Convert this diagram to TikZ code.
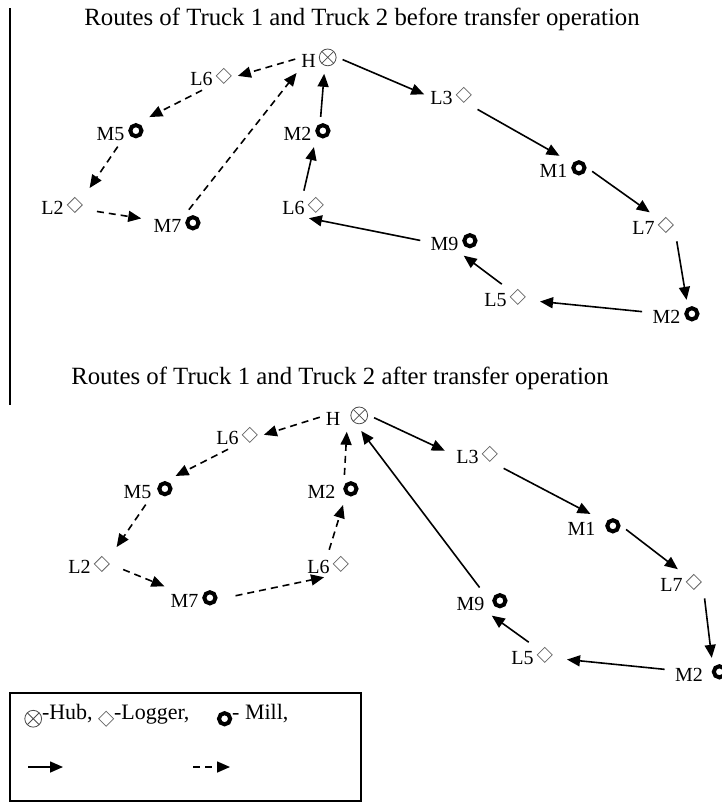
\documentclass[tikz,border=0pt]{standalone}
\usepackage{fontspec}
\setmainfont{Liberation Serif}
\usetikzlibrary{arrows.meta}
\newcommand{\hubsym}[1][-5pt]{\tikz[baseline=#1]{\draw[black!70] (0,0) circle (4.2pt); \draw[black!70] (45:4.2pt) -- (225:4.2pt) (135:4.2pt) -- (315:4.2pt);}}
\newcommand{\logsym}[1][-5pt]{\tikz[baseline=#1]\draw[black!60] (0,3.75pt) -- (3.75pt,0) -- (0,-3.75pt) -- (-3.75pt,0) -- cycle;}
\newcommand{\millsym}[1][-5pt]{\tikz[baseline=#1]\draw[line width=2pt] (0,0) circle (2.8pt);}
\begin{document}
\begin{tikzpicture}[x=0.5pt,y=-0.5pt]
    \tikzset{stop/.style = {inner sep=1pt,font=\fontsize{10}{12}\selectfont}, title/.style = {font=\fontsize{12.4}{14}\selectfont}, truck1/.style = {line width=.8pt,-{Triangle[length=6.5pt,width=5.5pt]}}, truck2/.style = {truck1,dash pattern=on 3.5pt off 2.5pt}}
    \useasboundingbox (0,0) rectangle (722,803);
    \draw[line width=.6pt] (10,8) -- (10,405);
    \node[title] (T1) at (362,19) {Routes of Truck 1 and Truck 2 before transfer operation};
    \node[title] (T2) at (340,378) {Routes of Truck 1 and Truck 2 after transfer operation};
    \node[stop] (H1) at (319,58) {H\hspace{1.5pt}\hubsym};
    \node[stop] (L6a) at (211,77) {L6\,\logsym};
    \node[stop] (M5a) at (120,132) {M5\hspace{2pt}\millsym};
    \node[stop] (L2a) at (62,206) {L2\,\logsym};
    \node[stop] (M7a) at (177,224) {M7\hspace{2pt}\millsym};
    \node[stop] (M2a) at (307,132) {M2\hspace{2pt}\millsym};
    \node[stop] (L6b) at (303,206) {L6\,\logsym};
    \node[stop] (L3a) at (451,96) {L3\,\logsym};
    \node[stop] (M1a) at (563,169) {M1\hspace{2pt}\millsym};
    \node[stop] (L7a) at (653,226) {L7\,\logsym};
    \node[stop] (M9a) at (454,242) {M9\hspace{2pt}\millsym};
    \node[stop] (L5a) at (505,298) {L5\,\logsym};
    \node[stop] (M2b) at (676,315) {M2\hspace{2pt}\millsym};
    \node[stop] (H2) at (347,416) {H\hspace{5pt}\hubsym};
    \node[stop] (L6c) at (237,436) {L6\,\logsym};
    \node[stop] (M5c) at (148,490) {M5\hspace{3pt}\millsym};
    \node[stop] (L2c) at (89,565) {L2\,\logsym};
    \node[stop] (M7c) at (194,599) {M7\hspace{2pt}\millsym};
    \node[stop] (L6d) at (328,565) {L6\,\logsym};
    \node[stop] (M2c) at (333,490) {M2\hspace{4pt}\millsym};
    \node[stop] (L3c) at (477,455) {L3\,\logsym};
    \node[stop] (M1c) at (594,527) {M1\hspace{5pt}\millsym};
    \node[stop] (L7c) at (681,583) {L7\,\logsym};
    \node[stop] (M9c) at (482,602) {M9\hspace{4pt}\millsym};
    \node[stop] (L5c) at (532,656) {L5\,\logsym};
    \node[stop] (M2d) at (701,673) {M2\hspace{4.5pt}\millsym};
    \begin{scope}[shorten >=2pt,shorten <=2pt]
        \draw[truck1] (H1.east) -- (L3a.west);
        \draw[truck1] (L3a.south east) -- (M1a.north);
        \draw[truck1] (M1a.east) -- (L7a.north);
        \draw[truck1] (L7a.south east) -- (M2b.45);
        \draw[truck1,shorten >=6pt,shorten <=4pt] (M2b) -- (L5a);
        \draw[truck1] (L5a.north) -- (M9a.-60);
        \draw[truck1,shorten <=4pt] (M9a.west) -- (L6b.-80);
        \draw[truck1] (L6b.north) -- (M2a.-55);
        \draw[truck1] (M2a.40) -- (H1.-65);
        \draw[truck2] (H1.west) -- (L6a.east);
        \draw[truck2,shorten >=4pt] (L6a.-115) -- (M5a);
        \draw[truck2,shorten >=4pt] (M5a.south) -- (L2a.north east);
        \draw[truck2,shorten >=5pt,shorten <=6pt] (L2a) -- (M7a);
        \draw[truck2] (M7a.50) -- (H1.south west);
        \draw[truck1,shorten >=5pt] (H2.east) -- (L3c.west);
        \draw[truck1] (L3c.south east) -- (M1c.north);
        \draw[truck1] (M1c.east) -- (L7c.north);
        \draw[truck1] (L7c.south east) -- (M2d.45);
        \draw[truck1,shorten >=6pt,shorten <=4pt] (M2d) -- (L5c);
        \draw[truck1] (L5c.north) -- (M9c.-60);
        \draw[truck1] (M9c.north) -- (H2.-45);
        \draw[truck2] (H2.west) -- (L6c.east);
        \draw[truck2,shorten >=3pt] (L6c.-115) -- (M5c);
        \draw[truck2,shorten >=4pt] (M5c.south) -- (L2c.north east);
        \draw[truck2,shorten <=6pt] (L2c.east) -- (M7c.north west);
        \draw[truck2,shorten <=8pt] (M7c.east) -- (L6d.south);
        \draw[truck2] (L6d.north) -- (M2c.-45);
        \draw[truck2] (M2c.45) -- (H2.south);
    \end{scope}
    \draw[line width=.6pt] (10,693) rectangle (361,801);
    \node[stop,anchor=west,font=\fontsize{11}{13}\selectfont] (key) at (22,716) {\hubsym[-0.5pt]-Hub, \logsym[-0.5pt]-Logger, \quad\millsym[-0.5pt]- Mill,};
    \coordinate (k1) at (28,767);
    \coordinate (k2) at (63,767);
    \coordinate (k3) at (193,767);
    \coordinate (k4) at (230,767);
    \draw[truck1] (k1) -- (k2);
    \draw[truck2] (k3) -- (k4);
\end{tikzpicture}
\end{document}
